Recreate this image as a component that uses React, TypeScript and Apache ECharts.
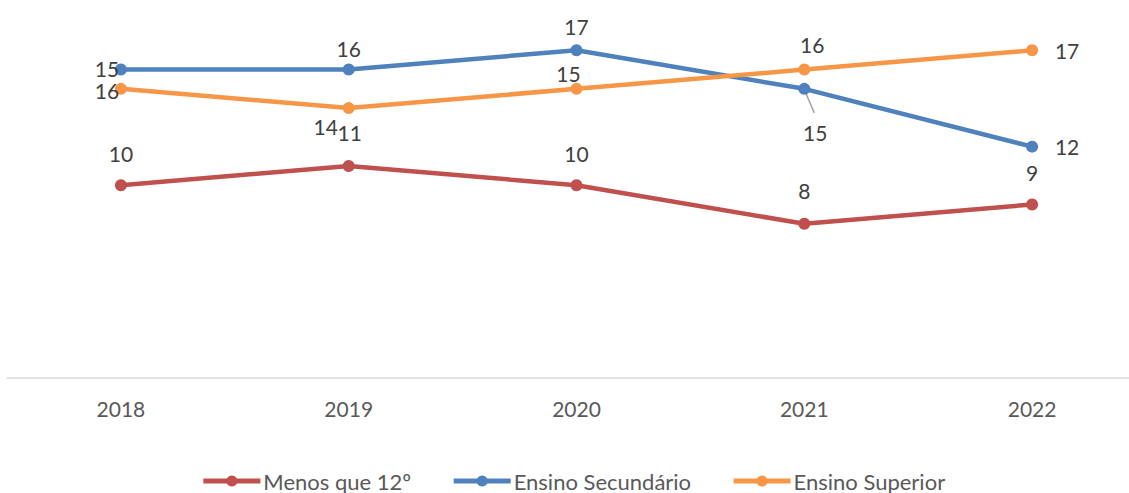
import React, { useEffect, useRef } from "react";
import * as echarts from "echarts";

const categories = ["2018", "2019", "2020", "2021", "2022"];
const menosValues = [10, 11, 10, 8, 9];
const secundarioValues = [16, 16, 17, 15, 12];
const superiorValues = [15, 14, 15, 16, 17];
// data label texts as shown in the reference
const menosLabels = ["10", "11", "10", "8", "9"];
const secundarioLabels = ["15", "16", "17", "15", "12"];
const superiorLabels = ["16", "14", "15", "16", "17"];

const menosOffsets = [[0, -32], [1, -33], [0, -32], [0, -33], [0, -32]];
const secundarioOffsets = [[-14, -1], [0, -21], [0, -24], [11, 44], [35, 0]];
const superiorOffsets = [[-14, 2], [-23, 18], [-8, -15], [8, -25], [35, 0]];

const FONT = "Lato";

function buildData(values: number[], labels: string[], offsets: number[][]) {
  return values.map((v, i) => ({
    value: v,
    label: {
      show: true,
      position: "inside",
      offset: offsets[i],
      formatter: () => labels[i],
      fontFamily: FONT,
      fontSize: 21,
      color: "#404040",
    },
  }));
}

function makeSeries(name: string, color: string, values: number[], labels: string[], offsets: number[][]) {
  return {
    name,
    type: "line",
    data: buildData(values, labels, offsets),
    symbol: "circle",
    symbolSize: 12,
    itemStyle: { color },
    lineStyle: { color, width: 4.5 },
    z: 2,
  };
}

export default function App() {
  const ref = useRef<HTMLDivElement>(null);
  useEffect(() => {
    if (!ref.current) return;
    const chart = echarts.init(ref.current, undefined, { renderer: "svg" });
    chart.setOption({
      animation: false,
      backgroundColor: "#ffffff",
      grid: { left: 7, top: 31, right: 0, height: 347, containLabel: false },
      xAxis: {
        type: "category",
        data: categories,
        boundaryGap: true,
        axisLine: { lineStyle: { color: "#D9D9D9", width: 1.5 } },
        axisTick: { show: false },
        axisLabel: { fontFamily: FONT, fontSize: 21, color: "#595959", margin: 20 },
      },
      yAxis: {
        type: "value",
        min: 0,
        max: 18,
        show: false,
        splitLine: { show: false },
      },
      legend: {
        top: 470,
        left: "center",
        padding: 0,
        itemWidth: 57,
        itemHeight: 14,
        itemGap: 40,
        lineStyle: { width: 5 },
        textStyle: { fontFamily: FONT, fontSize: 22, color: "#595959", padding: [0, 0, 0, -2] },
        data: ["Menos que 12º", "Ensino Secundário", "Ensino Superior"],
      },
      series: [
        makeSeries("Menos que 12º", "#C0504D", menosValues, menosLabels, menosOffsets),
        makeSeries("Ensino Secundário", "#4F81BD", secundarioValues, secundarioLabels, secundarioOffsets),
        makeSeries("Ensino Superior", "#F79646", superiorValues, superiorLabels, superiorOffsets),
      ],
    });
    const p = chart.convertToPixel({ seriesIndex: 1 }, [3, secundarioValues[3]]) as number[];
    if (p) {
      chart.setOption({
        graphic: [
          {
            type: "line",
            shape: { x1: p[0] + 1, y1: p[1] + 3, x2: p[0] + 10, y2: p[1] + 24 },
            style: { stroke: "#A6A6A6", lineWidth: 1.5 },
            z: 1,
          },
        ],
      });
    }
    return () => chart.dispose();
  }, []);
  return (
    <div
      style={{ position: "absolute", left: 0, top: 0, width: 1129, height: 493, overflow: "hidden", background: "#fff" }}
    >
      <div ref={ref} style={{ width: 1146, height: 493 }} />
    </div>
  );
}
